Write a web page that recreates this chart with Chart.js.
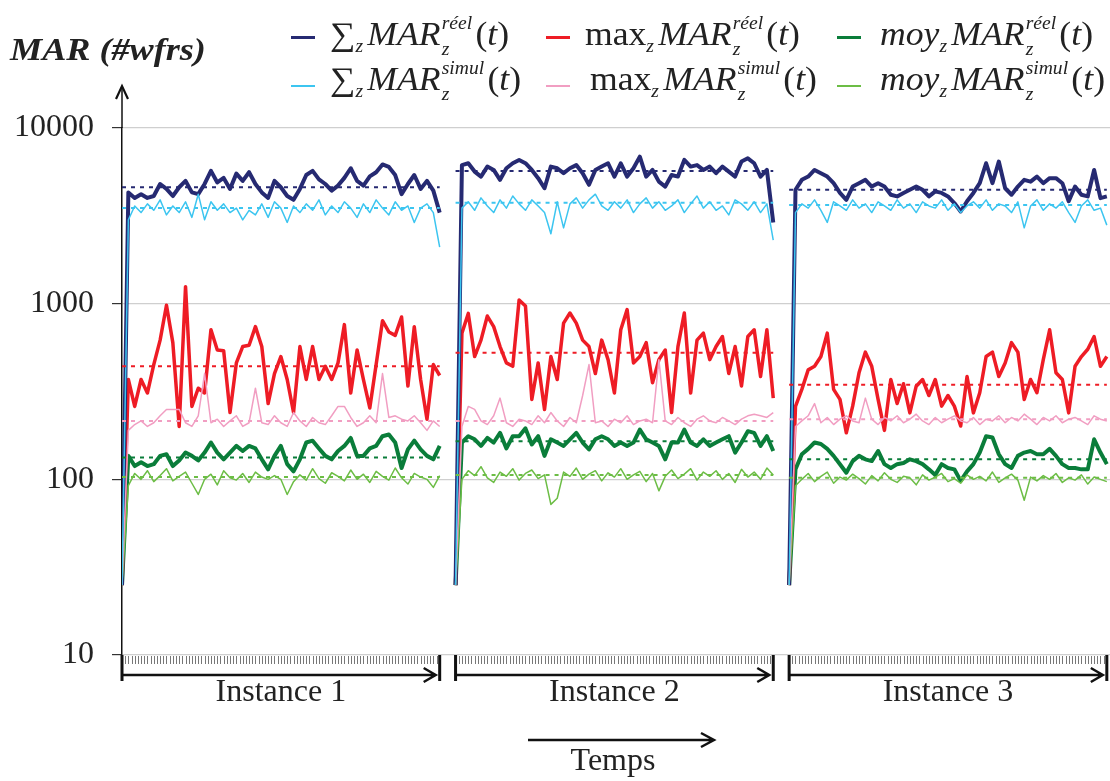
<!DOCTYPE html>
<html lang="fr">
<head>
<meta charset="UTF-8">
<title>MAR par instance</title>
<script src="https://cdn.jsdelivr.net/npm/chart.js"></script>
<style>
  body { margin: 0; background: #fff; }
  #wrap { position: relative; width: 1110px; height: 781px; }
  .serif { font-family: "Liberation Serif", "DejaVu Serif", serif; color: #222; }
  .ytitle { position: absolute; left: 10px; top: 31px; font-size: 32px; font-weight: bold; font-style: italic; white-space: nowrap; transform: scaleX(1.13); transform-origin: left top; }
  .mk { position: absolute; width: 24px; }
  .lt { position: absolute; font-size: 33px; white-space: nowrap; line-height: 1; transform: scaleX(1.08); transform-origin: left top; }
  .lt i { font-style: italic; }
  .lt .sb { font-size: 0.55em; font-style: italic; vertical-align: -0.35em; margin-right: 4px; }
  .ss { display: inline-flex; flex-direction: column; font-size: 0.55em; line-height: 1.45; vertical-align: 0.9em; font-style: italic; margin-left: 1px; margin-right: 3px; }
</style>
</head>
<body>
<div id="wrap">
  <canvas id="c"></canvas>
  <div class="ytitle serif">MAR (#wfrs)</div>

  <div class="mk" style="left:291px;top:36px;height:3px;background:#262a72"></div>
  <div class="lt serif" style="left:330px;top:10px">∑<span class="sb">z</span><i>MAR</i><span class="ss"><span>réel</span><span>z</span></span>(<i>t</i>)</div>
  <div class="mk" style="left:546px;top:36px;height:3px;background:#ee1c25"></div>
  <div class="lt serif" style="left:585px;top:10px">max<span class="sb">z</span><i>MAR</i><span class="ss"><span>réel</span><span>z</span></span>(<i>t</i>)</div>
  <div class="mk" style="left:837px;top:36px;height:3px;background:#0a7d3a"></div>
  <div class="lt serif" style="left:880px;top:10px"><i>moy</i><span class="sb">z</span><i>MAR</i><span class="ss"><span>réel</span><span>z</span></span>(<i>t</i>)</div>

  <div class="mk" style="left:291px;top:85px;height:2px;background:#3cc5f0"></div>
  <div class="lt serif" style="left:330px;top:55px">∑<span class="sb">z</span><i>MAR</i><span class="ss"><span>simul</span><span>z</span></span>(<i>t</i>)</div>
  <div class="mk" style="left:546px;top:85px;height:2px;background:#f19ec2"></div>
  <div class="lt serif" style="left:590px;top:55px">max<span class="sb">z</span><i>MAR</i><span class="ss"><span>simul</span><span>z</span></span>(<i>t</i>)</div>
  <div class="mk" style="left:837px;top:85px;height:2px;background:#6cbd45"></div>
  <div class="lt serif" style="left:880px;top:55px"><i>moy</i><span class="sb">z</span><i>MAR</i><span class="ss"><span>simul</span><span>z</span></span>(<i>t</i>)</div>
</div>

<script>
// time layout: three instances of 100 steps, sampled every 2 steps
const instStart = [0, 105, 210];
const instLen = 100;
const sampleStep = 2;
const instLabels = ['Instance 1', 'Instance 2', 'Instance 3'];
const yTicks = [10, 100, 1000, 10000];

// values, one array per instance
const sumReel = [
  [25,4300,4000,4200,4000,4100,4800,4500,4100,4600,5000,4300,4200,4800,5700,4900,5200,4500,5500,5000,5600,4800,4300,4000,5000,4600,4100,3900,4500,5400,5700,5100,4800,4400,4700,5200,5900,5000,4700,5300,5600,6200,6000,5400,4200,4800,5400,4500,5000,4400,3300],
  [25,6150,6300,5650,5290,6030,5770,5070,5900,6300,6580,6300,5770,5180,4540,6030,5900,5530,5900,6150,5530,4750,5770,6030,6300,5290,6300,5290,5900,6870,5290,5770,4950,4640,5400,5290,6580,6030,6150,5770,6030,5530,6030,5650,5290,6440,6720,6300,5290,5770,2900],
  [25,4450,5070,5290,5770,5530,5290,4850,4270,3900,4640,4850,5070,4640,4850,4640,4170,4080,4270,4450,4640,4450,4080,4360,4270,4080,3740,3350,3830,4270,4850,6300,4850,6440,4540,4170,4640,5070,4950,5290,4850,5180,5180,4850,3830,4640,4170,4080,5770,3990,4080]
];
const sumSimul = [
  [25,3000,3600,3300,3700,3400,3900,3200,3600,3300,3800,3100,4200,3000,3800,3400,3700,3300,3500,3000,3400,3200,3700,3100,3800,3500,2900,3600,3300,3700,3400,3900,3200,3600,3300,3800,3500,3100,3700,3300,3900,3500,3200,3800,3400,3600,2900,3500,3700,3300,2100],
  [25,3500,3800,3400,4000,3600,3300,3900,3500,4100,3700,3400,3900,3600,3300,2500,3800,2700,3700,4000,3500,3900,4200,3600,3400,3800,3500,3900,3300,3700,4000,3500,3800,3400,3600,3900,3300,3700,4100,3500,3800,3400,3600,3200,3900,3700,3400,3800,3300,3700,2300],
  [25,3300,3700,3500,3900,3400,2900,3800,3600,3400,3900,3500,3700,3300,3800,3600,3400,3900,3500,3700,3300,3800,3600,3500,3900,3400,3700,3300,3600,3800,3500,3900,3400,3700,3600,3300,3800,2700,3600,3900,3400,3700,3500,3800,3300,2900,3600,3900,3400,3500,2800]
];
const maxReel = [
  [25,370,260,370,310,450,620,980,600,200,1250,260,330,310,710,545,540,240,460,570,580,740,570,270,400,500,370,240,570,370,570,370,440,370,460,760,310,545,370,255,450,800,690,660,840,340,740,370,220,450,390],
  [25,680,880,500,620,850,740,570,460,440,1050,970,285,460,250,500,370,775,885,775,620,570,400,620,480,310,710,925,460,500,600,355,480,545,240,570,885,310,620,680,480,570,650,400,570,340,650,710,385,710,290],
  [25,260,325,420,440,500,680,325,285,184,261,404,530,440,285,190,370,270,350,239,339,370,300,370,261,300,261,201,385,239,311,500,530,385,460,600,530,285,370,311,480,710,404,370,239,440,500,550,650,440,500]
];
const maxSimul = [
  [25,190,205,215,200,210,230,250,250,250,210,200,230,400,210,220,200,215,230,200,210,330,210,205,230,210,200,240,215,200,225,210,205,230,260,260,225,200,210,230,210,400,225,230,220,215,230,210,190,215,200],
  [25,200,260,250,215,205,230,290,210,200,220,215,205,230,210,240,215,200,225,210,300,450,210,215,200,220,210,230,205,215,220,210,480,215,205,225,210,200,220,230,215,210,225,215,205,220,230,235,230,225,240],
  [25,200,215,230,270,210,225,205,220,230,215,210,290,220,205,225,215,230,210,220,235,215,205,225,210,220,230,215,210,225,205,220,215,230,210,225,215,235,220,205,225,215,230,210,220,225,215,205,230,220,215]
];
const moyReel = [
  [25,136,119,125,119,122,136,139,119,128,142,136,128,142,162,142,130,142,155,145,155,150,130,114,136,155,122,111,130,162,166,150,136,130,145,155,172,136,136,150,155,176,180,162,116,148,166,148,136,130,155],
  [25,162,176,169,155,172,162,184,150,176,176,195,158,176,136,169,162,155,169,184,162,148,169,176,169,155,162,155,162,192,169,162,155,130,162,162,192,162,155,169,155,162,169,176,142,162,188,184,155,176,145],
  [25,114,139,149,162,159,149,136,122,109,127,136,130,127,145,122,116,122,124,130,127,122,114,106,122,116,114,98,111,122,142,176,173,139,122,116,136,142,145,139,139,149,136,122,116,116,114,114,169,142,122]
];
const moySimul = [
  [25,92,108,100,112,97,105,115,98,104,110,95,82,100,107,93,112,102,99,108,96,110,103,100,105,100,82,97,106,99,115,101,95,109,104,98,113,100,107,96,111,104,99,116,102,94,108,103,100,90,105],
  [25,100,112,105,118,102,96,110,104,115,99,108,113,101,106,72,78,110,104,116,100,107,112,98,109,103,115,100,106,111,97,108,86,104,113,101,107,115,99,110,104,112,100,108,96,114,103,110,100,116,106],
  [25,92,100,108,97,104,110,95,103,99,107,101,94,105,98,109,100,96,104,102,93,106,99,103,108,97,101,95,106,100,104,98,110,96,102,107,99,76,103,98,105,100,108,96,102,99,106,94,103,100,97]
];

// per-instance averages (dotted lines)
const meanSumReel = [4600, 5700, 4450];
const meanMaxReel = [440, 525, 345];
const meanMoyReel = [133, 165, 130];
const meanSumSimul = [3500, 3750, 3650];
const meanMaxSimul = [215, 215, 220];
const meanMoySimul = [103, 106, 102];

const NAVY = '#262a72', SKY = '#3cc5f0', RED = '#ee1c25', PINK = '#f19ec2', GREEN = '#0a7d3a', LIME = '#6cbd45';

function series(parts) {
  const pts = [];
  parts.forEach((vals, k) => {
    vals.forEach((v, i) => pts.push({ x: instStart[k] + i * sampleStep, y: v }));
    pts.push({ x: instStart[k] + instLen + 1, y: null });
  });
  return pts;
}

function meanLine(m) {
  const pts = [];
  m.forEach((v, k) => {
    pts.push({ x: instStart[k], y: v }, { x: instStart[k] + instLen, y: v }, { x: instStart[k] + instLen + 1, y: null });
  });
  return pts;
}

function line(data, color, width) {
  return { data, borderColor: color, borderWidth: width, pointRadius: 0, tension: 0, spanGaps: false, borderJoinStyle: 'round' };
}
function dotted(data, color) {
  return { data, borderColor: color, borderWidth: 2, borderDash: [4, 5], pointRadius: 0, spanGaps: false };
}

const decor = {
  id: 'decor',
  afterDraw(chart) {
    const { ctx, chartArea: a, scales: { x } } = chart;
    ctx.save();
    // y axis extension with arrow
    ctx.strokeStyle = '#111';
    ctx.lineWidth = 1.5;
    ctx.beginPath();
    ctx.moveTo(a.left, a.top);
    ctx.lineTo(a.left, a.top - 42);
    ctx.stroke();
    ctx.lineWidth = 2.2;
    ctx.beginPath();
    ctx.moveTo(a.left - 6, a.top - 29);
    ctx.lineTo(a.left, a.top - 42);
    ctx.lineTo(a.left + 6, a.top - 29);
    ctx.stroke();

    instStart.forEach((s, k) => {
      const x0 = x.getPixelForValue(s), x1 = x.getPixelForValue(s + instLen);
      // small time ticks
      ctx.strokeStyle = '#777';
      ctx.lineWidth = 1;
      ctx.beginPath();
      for (let t = 1; t < instLen; t++) {
        const px = Math.round(x.getPixelForValue(s + t)) + 0.5;
        ctx.moveTo(px, a.bottom + 1);
        ctx.lineTo(px, a.bottom + 9);
      }
      ctx.stroke();
      // bracket
      ctx.strokeStyle = '#111';
      ctx.lineWidth = 3;
      ctx.beginPath();
      ctx.moveTo(x0, a.bottom);
      ctx.lineTo(x0, a.bottom + 26);
      ctx.moveTo(x1, a.bottom);
      ctx.lineTo(x1, a.bottom + 26);
      ctx.stroke();
      ctx.lineWidth = 2.5;
      ctx.beginPath();
      ctx.moveTo(x0, a.bottom + 20);
      ctx.lineTo(x1 - 4, a.bottom + 20);
      ctx.moveTo(x1 - 16, a.bottom + 13);
      ctx.lineTo(x1 - 4, a.bottom + 20);
      ctx.lineTo(x1 - 16, a.bottom + 27);
      ctx.stroke();
      ctx.fillStyle = '#222';
      ctx.font = '32px "Liberation Serif"';
      ctx.textAlign = 'center';
      ctx.textBaseline = 'middle';
      ctx.fillText(instLabels[k], (x0 + x1) / 2, a.bottom + 38);
    });

    // time arrow
    ctx.lineWidth = 2.5;
    ctx.beginPath();
    ctx.moveTo(528, 740);
    ctx.lineTo(714, 740);
    ctx.moveTo(701, 733);
    ctx.lineTo(714, 740);
    ctx.lineTo(701, 747);
    ctx.stroke();
    ctx.fillText('Temps', 613, 762);
    ctx.restore();
  }
};

new Chart(document.getElementById('c'), {
  type: 'line',
  data: {
    datasets: [
      dotted(meanLine(meanSumReel), NAVY),
      dotted(meanLine(meanSumSimul), SKY),
      dotted(meanLine(meanMaxReel), RED),
      dotted(meanLine(meanMaxSimul), PINK),
      dotted(meanLine(meanMoyReel), GREEN),
      dotted(meanLine(meanMoySimul), LIME),
      line(series(sumSimul), SKY, 1.5),
      line(series(maxSimul), PINK, 1.5),
      line(series(moySimul), LIME, 1.5),
      line(series(sumReel), NAVY, 4),
      line(series(maxReel), RED, 3.5),
      line(series(moyReel), GREEN, 4)
    ]
  },
  options: {
    responsive: true,
    maintainAspectRatio: false,
    animation: false,
    layout: { padding: { top: 128, bottom: 126, left: 0, right: 0 } },
    plugins: { legend: { display: false }, tooltip: { enabled: false } },
    scales: {
      x: { type: 'linear', min: 0, max: 311, display: false },
      y: {
        type: 'logarithmic',
        min: 10,
        max: 10000,
        afterBuildTicks: s => { s.ticks = yTicks.map(v => ({ value: v })); },
        afterFit: s => { s.width = 122; },
        ticks: {
          padding: 18,
          color: '#222',
          font: { family: 'Liberation Serif', size: 32 },
          callback: v => String(v)
        },
        grid: { color: '#cfcfcf', lineWidth: 1.2, tickColor: '#333', tickLength: 10 },
        border: { color: '#111', width: 1.5 }
      }
    }
  },
  plugins: [decor]
});
</script>
</body>
</html>
